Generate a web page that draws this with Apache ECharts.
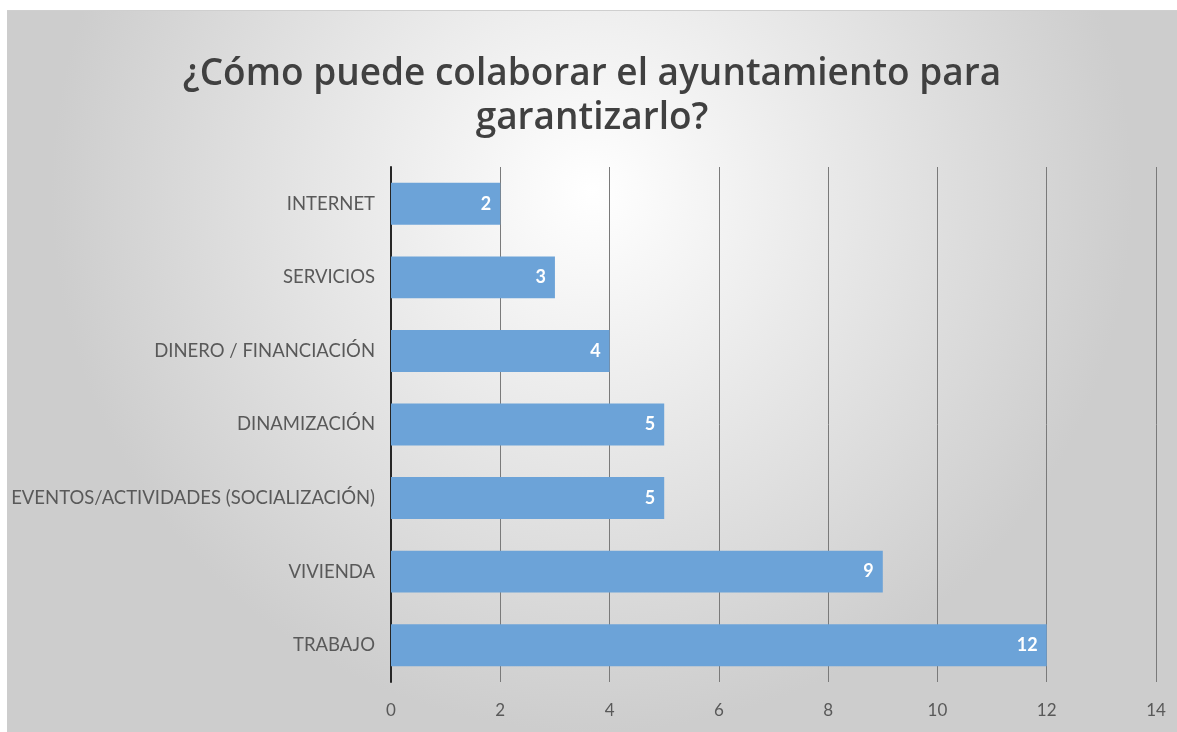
<!DOCTYPE html>
<html>
<head>
<meta charset="utf-8">
<script src="https://cdn.jsdelivr.net/npm/echarts@6/dist/echarts.min.js"></script>
<style>
  html, body { margin: 0; padding: 0; background: #fff; }
  #chart { position: absolute; left: 7px; top: 10px; width: 1170px; height: 722px; border-top: 1px solid #cfcfcf; box-sizing: border-box; }
</style>
</head>
<body>
<div id="chart"></div>
<script>
// answers, top to bottom
let categories = ['INTERNET', 'SERVICIOS', 'DINERO / FINANCIACIÓN', 'DINAMIZACIÓN',
  'EVENTOS/ACTIVIDADES (SOCIALIZACIÓN)', 'VIVIENDA', 'TRABAJO']
let counts = [2, 3, 4, 5, 5, 9, 12]
let titleText = '¿Cómo puede colaborar el ayuntamiento para\ngarantizarlo?'

let chart = echarts.init(document.getElementById('chart'))
let font = 'Lato, "Noto Sans", sans-serif'

chart.setOption({
  backgroundColor: {
    type: 'radial', x: 0.5, y: 0.25, r: 0.75,
    colorStops: [
      { offset: 0, color: '#ffffff' },
      { offset: 1, color: '#cdcdcd' }
    ]
  },
  title: {
    text: titleText,
    left: 'center',
    top: 36,
    textStyle: {
      fontFamily: '"Open Sans", sans-serif',
      fontSize: 37,
      fontWeight: 600,
      color: '#404040',
      lineHeight: 44
    }
  },
  grid: { left: 384, right: 21, top: 156, bottom: 50, containLabel: false },
  xAxis: {
    type: 'value',
    min: 0,
    max: 14,
    interval: 2,
    axisLine: { show: false },
    axisTick: { show: false },
    axisLabel: { color: '#595959', fontSize: 17, fontFamily: font, margin: 20 },
    splitLine: { lineStyle: { color: '#7a7a7a', width: 1 } }
  },
  yAxis: {
    type: 'category',
    data: categories,
    inverse: true,
    axisLine: { lineStyle: { color: '#262626', width: 2 } },
    axisTick: { show: false },
    axisLabel: { color: '#595959', fontSize: 18.5, fontFamily: font, margin: 16 }
  },
  series: [{
    type: 'bar',
    data: counts,
    barWidth: '57%',
    itemStyle: { color: '#6ca3d8' },
    label: {
      show: true,
      position: 'insideRight',
      color: '#ffffff',
      fontSize: 18,
      fontWeight: 'bold',
      fontFamily: font,
      offset: [-4, 0]
    }
  }]
})
</script>
</body>
</html>
